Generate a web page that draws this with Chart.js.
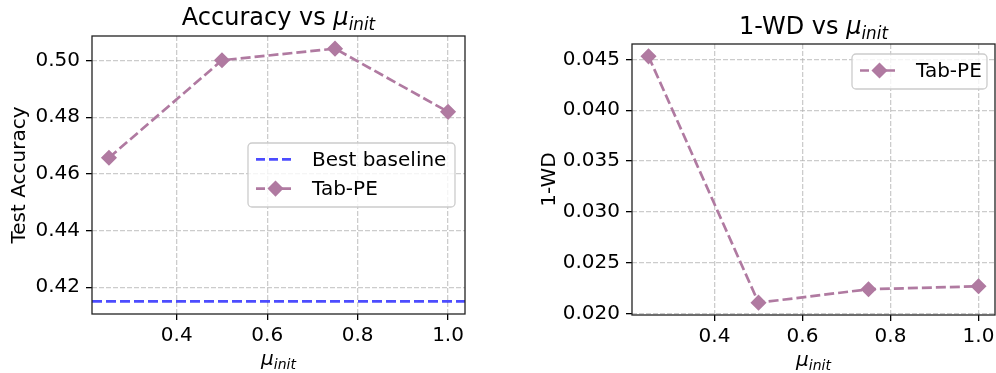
<!DOCTYPE html>
<html>
<head>
<meta charset="utf-8">
<script src="https://cdn.jsdelivr.net/npm/chart.js@4.4.1/dist/chart.umd.min.js"></script>
<style>
  html, body { margin: 0; padding: 0; background: #fff; }
  #wrap { position: relative; width: 996px; height: 373px; }
  .panel { position: absolute; top: 0; height: 373px; }
  #accPanel { left: 0; width: 500px; }
  #wdPanel { left: 500px; width: 496px; }
</style>
</head>
<body>
<div id="wrap">
  <div class="panel" id="accPanel"><canvas id="accChart"></canvas></div>
  <div class="panel" id="wdPanel"><canvas id="wdChart"></canvas></div>
</div>
<script>
// --- values ---
const muInit = [0.25, 0.5, 0.75, 1.0];
const accTabPE = [0.4657, 0.5001, 0.5042, 0.4819];
const accBestBaseline = 0.415;
const wdTabPE = [0.0453, 0.02108, 0.0224, 0.02269];

// --- ticks ---
const xTicks = [0.4, 0.6, 0.8, 1.0];
const accTicks = [0.42, 0.44, 0.46, 0.48, 0.50];
const wdTicks = [0.020, 0.025, 0.030, 0.035, 0.040, 0.045];

const FONT = '"DejaVu Sans", sans-serif';
const PURPLE = '#b07aa1';
const BLUE = 'rgba(0, 0, 255, 0.7)';
const GRID = 'rgba(176, 176, 176, 0.65)';
const DASH = [10, 4];
const LINE_W = 2.7;

Chart.defaults.font.family = FONT;
Chart.defaults.color = '#000';

// 5% margin on each side, like the usual autoscale
function padRange(values) {
  const lo = Math.min(...values), hi = Math.max(...values);
  const m = (hi - lo) * 0.05;
  return [lo - m, hi + m];
}

const [xMin, xMax] = padRange(muInit);
const [accMin, accMax] = padRange([accBestBaseline, ...accTabPE]);
const [wdMin, wdMax] = padRange(wdTabPE);

// "prefix μ_init" with italic mu and subscript
function drawMuText(ctx, prefix, size, cx, baseY) {
  const fMain = `${size}px ${FONT}`;
  const fIt = `italic ${size}px ${FONT}`;
  const fSub = `italic ${size * 0.7}px ${FONT}`;
  ctx.font = fMain; const wp = ctx.measureText(prefix).width;
  ctx.font = fIt; const wm = ctx.measureText('μ').width;
  ctx.font = fSub; const ws = ctx.measureText('init').width;
  let x = cx - (wp + wm + ws) / 2;
  ctx.textAlign = 'left';
  ctx.textBaseline = 'alphabetic';
  ctx.fillStyle = '#000';
  ctx.font = fMain; ctx.fillText(prefix, x, baseY); x += wp;
  ctx.font = fIt; ctx.fillText('μ', x, baseY); x += wm;
  ctx.font = fSub; ctx.fillText('init', x, baseY + size * 0.2);
}

function diamond(ctx, x, y, r, color) {
  ctx.save();
  ctx.setLineDash([]);
  ctx.beginPath();
  ctx.moveTo(x - r, y); ctx.lineTo(x, y - r); ctx.lineTo(x + r, y); ctx.lineTo(x, y + r);
  ctx.closePath();
  ctx.fillStyle = color; ctx.strokeStyle = color; ctx.lineWidth = 1.5;
  ctx.fill(); ctx.stroke();
  ctx.restore();
}

function drawLegend(ctx, box, items) {
  const {x, y, w, h} = box, r = 4;
  ctx.save();
  ctx.beginPath();
  ctx.moveTo(x + r, y);
  ctx.arcTo(x + w, y, x + w, y + h, r);
  ctx.arcTo(x + w, y + h, x, y + h, r);
  ctx.arcTo(x, y + h, x, y, r);
  ctx.arcTo(x, y, x + w, y, r);
  ctx.closePath();
  ctx.fillStyle = 'rgba(255,255,255,0.8)';
  ctx.fill();
  ctx.strokeStyle = '#cccccc';
  ctx.lineWidth = 1.3;
  ctx.stroke();

  items.forEach(it => {
    const cy = y + it.dy;
    const x0 = x + 8, x1 = x + 47;
    ctx.beginPath();
    ctx.setLineDash([9, 4]);
    ctx.strokeStyle = it.color;
    ctx.lineWidth = LINE_W;
    ctx.moveTo(x0, cy); ctx.lineTo(x1, cy);
    ctx.stroke();
    if (it.marker) diamond(ctx, (x0 + x1) / 2, cy, 7, it.color);
    ctx.setLineDash([]);
    ctx.font = `20px ${FONT}`;
    ctx.fillStyle = '#000';
    ctx.textAlign = 'left';
    ctx.textBaseline = 'middle';
    ctx.fillText(it.label, x + 64, cy + 1);
  });
  ctx.restore();
}

// frame, titles, axis labels and legend
function decorPlugin(cfg) {
  return {
    id: 'decor',
    afterDraw(chart) {
      const {ctx, chartArea: a} = chart;
      ctx.save();
      ctx.strokeStyle = '#222';
      ctx.lineWidth = 1.3;
      ctx.setLineDash([]);
      ctx.strokeRect(a.left, a.top, a.right - a.left, a.bottom - a.top);

      drawMuText(ctx, cfg.title, 24, (a.left + a.right) / 2, cfg.titleY);
      drawMuText(ctx, '', 20, (a.left + a.right) / 2, cfg.xLabelY);

      ctx.translate(cfg.yLabelX, (a.top + a.bottom) / 2);
      ctx.rotate(-Math.PI / 2);
      ctx.font = `20px ${FONT}`;
      ctx.fillStyle = '#000';
      ctx.textAlign = 'center';
      ctx.textBaseline = 'alphabetic';
      ctx.fillText(cfg.yLabel, 0, 0);
      ctx.restore();

      drawLegend(ctx, cfg.legendBox, cfg.legendItems);
    }
  };
}

// keep the plot box fixed: no extra room asked for by edge tick labels
function fixBox(s, prop, size) {
  s[prop] = size;
  s.paddingLeft = 0; s.paddingRight = 0;
  s.paddingTop = 0; s.paddingBottom = 0;
}

function makePanel(canvasId, cfg, datasets) {
  const area = cfg.area;
  return new Chart(document.getElementById(canvasId), {
    type: 'line',
    data: { datasets },
    options: {
      responsive: true,
      maintainAspectRatio: false,
      animation: false,
      events: [],
      layout: {
        autoPadding: false,
        padding: { left: 0, top: area.top, right: cfg.width - area.right, bottom: 0 }
      },
      plugins: { legend: { display: false }, tooltip: { enabled: false } },
      elements: { line: { tension: 0, fill: false } },
      scales: {
        x: {
          type: 'linear',
          min: xMin,
          max: xMax,
          afterBuildTicks: s => { s.ticks = xTicks.map(v => ({ value: v })); },
          afterFit: s => fixBox(s, 'height', 373 - area.bottom),
          ticks: { callback: v => v.toFixed(1), font: { size: 20 }, color: '#000', padding: 4, maxRotation: 0, autoSkip: false },
          grid: { color: GRID, lineWidth: 1.3, tickColor: '#000', tickLength: 6, tickWidth: 1.3 },
          border: { display: false, dash: [5, 2] }
        },
        y: {
          type: 'linear',
          min: cfg.yMin,
          max: cfg.yMax,
          afterBuildTicks: s => { s.ticks = cfg.yTicks.map(v => ({ value: v })); },
          afterFit: s => fixBox(s, 'width', area.left),
          ticks: { callback: v => v.toFixed(cfg.yDigits), font: { size: 20 }, color: '#000', padding: 6, autoSkip: false },
          grid: { color: GRID, lineWidth: 1.3, tickColor: '#000', tickLength: 6, tickWidth: 1.3 },
          border: { display: false, dash: [5, 2] }
        }
      }
    },
    plugins: [decorPlugin(cfg)]
  });
}

const tabPEStyle = {
  label: 'Tab-PE',
  borderColor: PURPLE,
  backgroundColor: PURPLE,
  borderWidth: LINE_W,
  borderDash: DASH,
  pointStyle: 'rectRot',
  pointRadius: 7,
  pointBorderWidth: 1.5
};

// --- accuracy panel ---
makePanel('accChart', {
  width: 500,
  area: { left: 92, right: 465, top: 36, bottom: 314 },
  yMin: accMin, yMax: accMax, yTicks: accTicks, yDigits: 2,
  title: 'Accuracy vs ', titleY: 25,
  xLabelY: 365,
  yLabel: 'Test Accuracy', yLabelX: 24.6,
  legendBox: { x: 248, y: 143, w: 207, h: 64 },
  legendItems: [
    { label: 'Best baseline', color: BLUE, marker: false, dy: 16.3 },
    { label: 'Tab-PE', color: PURPLE, marker: true, dy: 45.6 }
  ]
}, [
  {
    label: 'Best baseline',
    data: [{ x: xMin, y: accBestBaseline }, { x: xMax, y: accBestBaseline }],
    borderColor: BLUE,
    borderWidth: LINE_W,
    borderDash: DASH,
    pointRadius: 0
  },
  { ...tabPEStyle, data: muInit.map((x, i) => ({ x, y: accTabPE[i] })) }
]);

// --- 1-WD panel ---
makePanel('wdChart', {
  width: 496,
  area: { left: 132, right: 495, top: 44, bottom: 315 },
  yMin: wdMin, yMax: wdMax, yTicks: wdTicks, yDigits: 3,
  title: '1-WD vs ', titleY: 34,
  xLabelY: 366,
  yLabel: '1-WD', yLabelX: 54.6,
  legendBox: { x: 352, y: 54, w: 135, h: 35 },
  legendItems: [
    { label: 'Tab-PE', color: PURPLE, marker: true, dy: 16.5 }
  ]
}, [
  { ...tabPEStyle, data: muInit.map((x, i) => ({ x, y: wdTabPE[i] })) }
]);
</script>
</body>
</html>
